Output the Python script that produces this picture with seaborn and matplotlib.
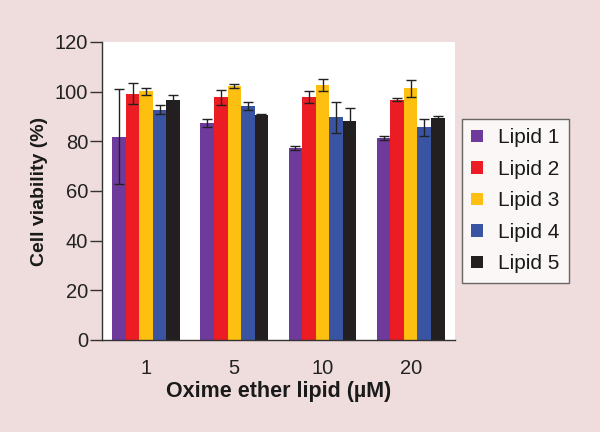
import pandas as pd
import matplotlib
matplotlib.use("Agg")
import matplotlib.pyplot as plt
import seaborn as sns
import numpy as np

# data
concentrations = ["1", "5", "10", "20"]
lipids = ["Lipid 1", "Lipid 2", "Lipid 3", "Lipid 4", "Lipid 5"]
viability = {
    "Lipid 1": [81.9, 87.2, 77.2, 81.3],
    "Lipid 2": [99.2, 97.7, 97.7, 96.8],
    "Lipid 3": [100.1, 102.4, 102.6, 101.3],
    "Lipid 4": [92.7, 94.1, 89.6, 85.6],
    "Lipid 5": [96.8, 90.7, 88.0, 89.5],
}
errors = {
    "Lipid 1": [19.0, 1.6, 0.9, 0.8],
    "Lipid 2": [4.2, 3.0, 2.4, 0.6],
    "Lipid 3": [1.5, 0.8, 2.3, 3.5],
    "Lipid 4": [1.7, 1.7, 6.2, 3.5],
    "Lipid 5": [1.9, 0.3, 5.4, 0.8],
}
colors = ["#6E3B9C", "#EC1C24", "#FDC010", "#3A54A4", "#231F20"]

rows = []
for lip in lipids:
    for c, v in zip(concentrations, viability[lip]):
        rows.append({"Concentration": c, "Lipid": lip, "Viability": v})
df = pd.DataFrame(rows)

sns.set_theme(style="white")
plt.rcParams["font.family"] = ["Liberation Sans", "DejaVu Sans"]
bg = "#EFDCDC"

fig = plt.figure(figsize=(6, 4.32), dpi=100, facecolor=bg)
ax = fig.add_axes([0.170, 0.213, 0.588, 0.690])
ax.set_facecolor("white")

sns.barplot(data=df, x="Concentration", y="Viability", hue="Lipid",
            order=concentrations, hue_order=lipids, palette=colors,
            width=0.77, gap=0, errorbar=None, saturation=1,
            linewidth=0, ax=ax)

# error bars at bar centres
for cont, lip in zip(ax.containers, lipids):
    xs = [b.get_x() + b.get_width() / 2 for b in cont]
    hs = [b.get_height() for b in cont]
    ax.errorbar(xs, hs, yerr=errors[lip], fmt="none", ecolor="#222222",
                elinewidth=1.0, capsize=3.5, capthick=1.0, zorder=5)

ax.set_ylim(0, 120)
ax.set_xlim(-0.5, 3.5)
ax.set_yticks(np.arange(0, 121, 20))
ax.set_xticks([-0.5, 0.5, 1.5, 2.5, 3.5], minor=True)
ax.tick_params(axis="x", which="major", length=0, labelsize=14.5, pad=14, colors="#222222")
ax.tick_params(axis="x", which="minor", length=8, width=1, direction="out", color="#333333")
ax.tick_params(axis="y", length=9, width=1, direction="out", labelsize=14.5,
               color="#333333", labelcolor="#222222", pad=1)
ax.tick_params(left=True, bottom=True)

for s in ["top", "right"]:
    ax.spines[s].set_visible(False)
for s in ["left", "bottom"]:
    ax.spines[s].set_color("#333333")
    ax.spines[s].set_linewidth(1.0)

ax.set_xlabel("Oxime ether lipid (\u00b5M)", fontsize=15.5, fontweight="bold",
              labelpad=2, color="#1a1a1a")
ax.set_ylabel("Cell viability (%)", fontsize=14, fontweight="bold",
              labelpad=5, color="#1a1a1a")

leg = ax.legend(loc="upper left", bbox_to_anchor=(1.02, 0.742), frameon=True,
                fontsize=15, handlelength=0.55, handleheight=0.55,
                handletextpad=0.75, borderpad=0.45, labelspacing=0.6,
                borderaxespad=0, fancybox=False)
leg.get_frame().set_edgecolor("#444444")
leg.get_frame().set_linewidth(1.0)
for t in leg.get_texts():
    t.set_color("#1a1a1a")

fig.savefig("out.png", dpi=100, facecolor=bg)
